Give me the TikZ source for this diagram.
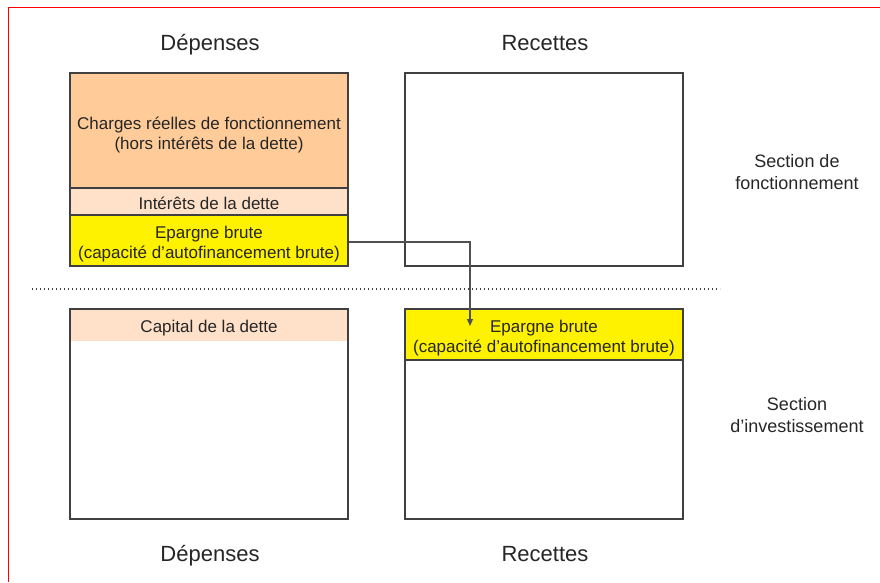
\documentclass[tikz,border=0pt]{standalone}
\usepackage{fontspec}
\setmainfont{Liberation Sans}
\usetikzlibrary{arrows.meta}
\definecolor{peach}{HTML}{FFCC99}
\definecolor{lightpeach}{HTML}{FFE0C8}
\definecolor{edgegray}{HTML}{404040}
\definecolor{arrowgray}{HTML}{505050}
\begin{document}
\begin{tikzpicture}[x=1pt,y=-1pt,
  box/.style={draw=edgegray, line width=1.3pt, minimum width=278pt, inner sep=0pt},
  plainfill/.style={minimum width=278pt, inner sep=0pt},
  boxtext/.style={inner sep=0pt, align=center, yshift=-4pt,
    font=\fontsize{17}{20}\selectfont, text=black!85},
  head/.style={anchor=base, font=\fontsize{22}{26}\selectfont, text=black!85},
  sect/.style={font=\fontsize{18}{21.5}\selectfont, align=center, text=black!85},
  flow/.style={draw=arrowgray, line width=1.2pt, -{Triangle[length=7pt,width=6pt]}},
  sepline/.style={draw=edgegray, line width=1.1pt, dash pattern=on 1.4pt off 2.6pt}
]
\useasboundingbox (0,0) rectangle (880,582);
\draw[red, line width=1pt] (8,582) -- (8,7) -- (880,7);

% headings
\node[head] (dep1) at (210,50) {Dépenses};
\node[head] (rec1) at (545,50) {Recettes};
\node[head] (dep2) at (210,561) {Dépenses};
\node[head] (rec2) at (545,561) {Recettes};

% section labels
\node[sect] (sf) at (797,172) {Section de\\fonctionnement};
\node[sect] (si) at (797,415) {Section\\d'investissement};

% fonctionnement - dépenses
\node[box, fill=peach, minimum height=115pt,
  label={[boxtext]center:{Charges réelles de fonctionnement\\(hors intérêts de la dette)}}]
  (charges) at (209,130.5) {};
\node[box, fill=lightpeach, minimum height=27pt,
  label={[boxtext, yshift=2pt]center:{Intérêts de la dette}}]
  (interets) at (209,201.5) {};
\node[box, fill=yellow, minimum height=51pt,
  label={[boxtext]center:{Epargne brute\\(capacité d'autofinancement brute)}}]
  (epargnef) at (209,240.5) {};
\node[box, minimum height=193pt] (depfonc) at (209,169.5) {};

% fonctionnement - recettes
\node[box, minimum height=193pt] (recfonc) at (544,169.5) {};

% separator
\coordinate (sl) at (32,289);
\coordinate (sr) at (720,289);
\draw[sepline] (sl) -- (sr);

% investissement - dépenses
\node[plainfill, fill=lightpeach, minimum height=32pt,
  label={[boxtext, yshift=1pt]center:{Capital de la dette}}]
  (capital) at (209,325) {};
\node[box, minimum height=210pt] (depinv) at (209,414) {};

% investissement - recettes
\node[box, minimum height=210pt] (recinv) at (544,414) {};
\node[box, fill=yellow, minimum height=51pt,
  label={[boxtext]center:{Epargne brute\\(capacité d'autofinancement brute)}}]
  (epargnei) at (544,334.5) {};

% arrow
\coordinate (tip) at (470,326);
\draw[flow] ([yshift=-1.5pt]epargnef.east) -| (tip);
\end{tikzpicture}
\end{document}
